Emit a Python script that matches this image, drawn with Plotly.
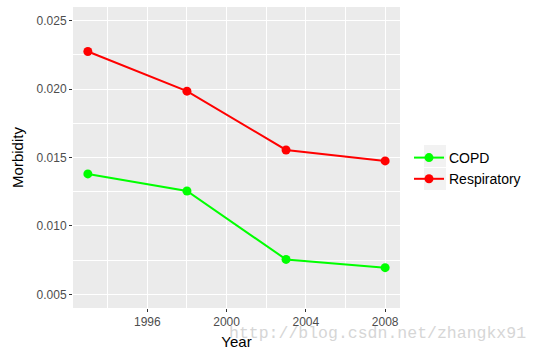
import plotly.graph_objects as go

years = [1993, 1998, 2003, 2008]
copd = [0.0138, 0.01255, 0.00755, 0.00695]
respiratory = [0.02275, 0.01985, 0.01555, 0.01475]
series_names = ["COPD", "Respiratory"]
series_colors = ["#00FF00", "#FF0000"]

W, H = 537, 355
L, R, T, B = 73, 137, 7, 47
PW, PH = W - L - R, H - T - B

fig = go.Figure()
for name, vals, col in zip(series_names, [copd, respiratory], series_colors):
    fig.add_trace(go.Scatter(
        x=years, y=vals, name=name, mode="lines+markers",
        line=dict(color=col, width=2),
        marker=dict(color=col, size=9),
    ))

axis_common = dict(
    showline=False, zeroline=False, gridcolor="white", gridwidth=1.1,
    ticks="outside", ticklen=3, tickcolor="#333333", tickwidth=1,
    tickfont=dict(family="Liberation Sans, Arial", size=12, color="#4D4D4D"),
)
fig.update_xaxes(
    range=[1992.25, 2008.75], tick0=1996, dtick=4,
    minor=dict(dtick=2, tick0=1996, showgrid=True, gridcolor="white", gridwidth=0.6),
    title=dict(text="Year", font=dict(family="Liberation Sans, Arial", size=15, color="black"), standoff=8),
    **axis_common,
)
fig.update_yaxes(
    range=[0.004, 0.026], tick0=0.005, dtick=0.005, tickformat=".3f",
    minor=dict(dtick=0.0025, tick0=0.005, showgrid=True, gridcolor="white", gridwidth=0.6),
    title=dict(text="Morbidity", font=dict(family="Liberation Sans, Arial", size=15, color="black"), standoff=9),
    **axis_common,
)

# legend key backgrounds
for i in range(2):
    y0 = 145 + i * 23
    fig.add_shape(type="rect", xref="paper", yref="paper",
                  x0=(424 - L) / PW, x1=(446 - L) / PW,
                  y0=1 - (y0 + 22 - T) / PH, y1=1 - (y0 - T) / PH,
                  fillcolor="#F2F2F2", line=dict(width=0), layer="below")

fig.add_annotation(text="http://blog.csdn.net/zhangkx91", xref="paper", yref="paper",
                   x=(227 - L) / PW, y=1 - (333 - T) / PH,
                   xanchor="left", yanchor="middle", showarrow=False,
                   font=dict(family="Liberation Mono, DejaVu Sans Mono", size=16.5, color="#D6D6D6"))

fig.update_layout(
    width=W, height=H,
    margin=dict(l=L, r=R, t=T, b=B, pad=0),
    plot_bgcolor="#EBEBEB", paper_bgcolor="white",
    legend=dict(x=(409 - L) / PW, xanchor="left", y=1 - (168.5 - T) / PH, yanchor="middle",
                font=dict(family="Liberation Sans, Arial", size=14, color="black"),
                bgcolor="rgba(0,0,0,0)", itemwidth=30, tracegroupgap=0),
    showlegend=True,
)

fig.write_html("out.html")
